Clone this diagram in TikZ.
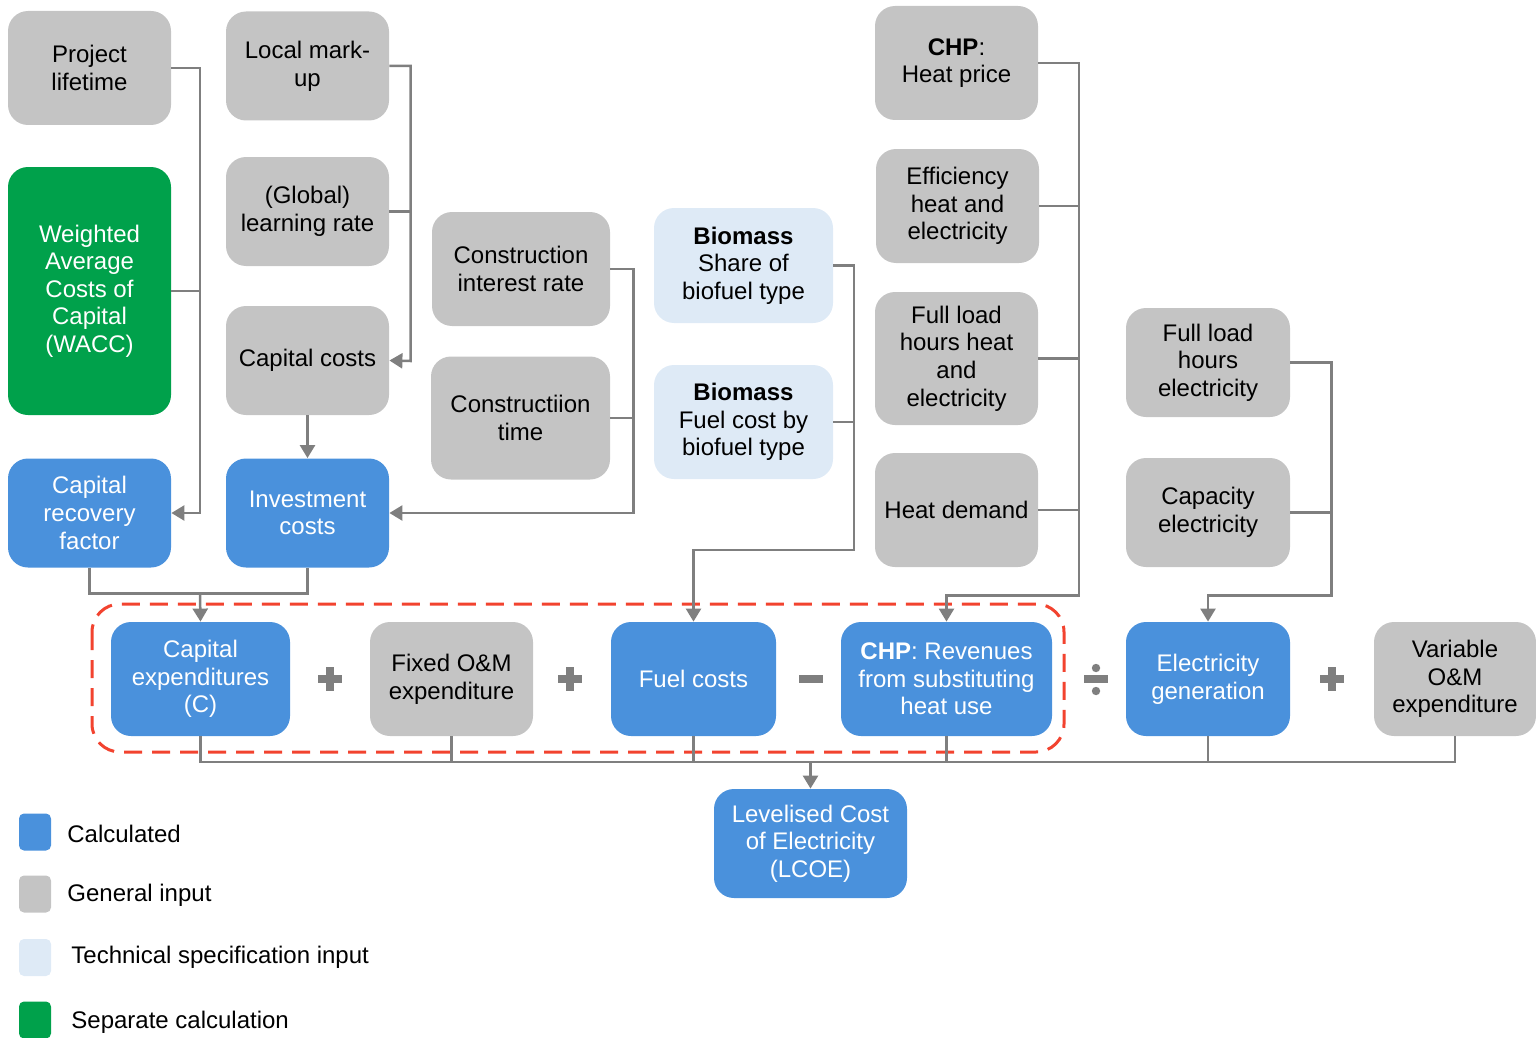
\documentclass[tikz,border=0pt]{standalone}
\usepackage{fontspec}
\setmainfont{Liberation Sans}
\usetikzlibrary{arrows.meta}
\definecolor{calcblue}{HTML}{4A91DC}
\definecolor{inputgray}{HTML}{C4C4C4}
\definecolor{techblue}{HTML}{DEEAF6}
\definecolor{sepgreen}{HTML}{00A14B}
\definecolor{linegray}{HTML}{7F7F7F}
\definecolor{dashred}{HTML}{F2432F}
\tikzset{
  base/.style={rounded corners=10pt, align=center, inner sep=0pt,
    font=\fontsize{12}{13.8}\selectfont},
  calc/.style={base, fill=calcblue, text=white},
  ginput/.style={base, fill=inputgray, text=black},
  tech/.style={base, fill=techblue, text=black},
  sep/.style={base, fill=sepgreen, text=white},
  conn/.style={draw=linegray, line width=1.25pt},
  arr/.style={conn, -{Triangle[length=6.5pt,width=7.5pt]}},
  opbar/.style={draw=linegray, line width=3.6pt},
  legsq/.style={rounded corners=2.5pt, minimum width=16pt, minimum height=18.5pt, inner sep=0pt},
  legtxt/.style={anchor=west, font=\fontsize{12}{14}\selectfont, inner sep=0pt},
}
\begin{document}
\begin{tikzpicture}[x=0.5pt,y=-0.5pt]
\useasboundingbox (0,0) rectangle (1536,1038);

% first column
\node[ginput, minimum width=81.5pt, minimum height=57pt] (plt) at (89.5,68) {Project\\lifetime};
\node[sep, minimum width=81.5pt, minimum height=124pt] (wacc) at (89.5,291) {Weighted\\Average\\Costs of\\Capital\\(WACC)};
\node[calc, minimum width=81.5pt, minimum height=54.5pt] (crf) at (89.5,513) {Capital\\recovery\\factor};

% second column
\node[ginput, minimum width=81.5pt, minimum height=54.5pt] (lmu) at (307.5,66) {Local mark-\\up};
\node[ginput, minimum width=81.5pt, minimum height=54.5pt] (lr) at (307.5,211.5) {(Global)\\learning rate};
\node[ginput, minimum width=81.5pt, minimum height=54.5pt] (cc) at (307.5,360.5) {Capital costs};
\node[calc, minimum width=81.5pt, minimum height=54.5pt] (inv) at (307.5,513) {Investment\\costs};

% construction
\node[ginput, minimum width=89pt, minimum height=57pt] (cir) at (521,269) {Construction\\interest rate};
\node[ginput, minimum width=89.5pt, minimum height=61.5pt] (ct) at (520.5,418) {Constructiion\\time};

% biomass
\node[tech, minimum width=89.5pt, minimum height=57.5pt] (bs) at (743.5,265.5) {\textbf{Biomass}\\Share of\\biofuel type};
\node[tech, minimum width=89.5pt, minimum height=57pt] (bf) at (743.5,422) {\textbf{Biomass}\\Fuel cost by\\biofuel type};

% CHP inputs
\node[ginput, minimum width=81.5pt, minimum height=57pt] (hp) at (956.5,63) {\textbf{CHP}:\\Heat price};
\node[ginput, minimum width=81.5pt, minimum height=57pt] (eff) at (957.5,206) {Efficiency\\heat and\\electricity};
\node[ginput, minimum width=81.5pt, minimum height=66.5pt] (flhh) at (956.5,358.5) {Full load\\hours heat\\and\\electricity};
\node[ginput, minimum width=81.5pt, minimum height=57pt] (hd) at (956.5,510) {Heat demand};

% electricity inputs
\node[ginput, minimum width=82pt, minimum height=54.5pt] (flhe) at (1208,362.5) {Full load\\hours\\electricity};
\node[ginput, minimum width=82pt, minimum height=54.5pt] (cap) at (1208,512.5) {Capacity\\electricity};

% cost components
\node[calc, minimum width=89.5pt, minimum height=57pt] (capex) at (200.5,679) {Capital\\expenditures\\(C)};
\node[ginput, minimum width=81.5pt, minimum height=57pt] (fom) at (451.5,679) {Fixed O\&M\\expenditure};
\node[calc, minimum width=82.5pt, minimum height=57pt] (fuel) at (693.5,679) {Fuel costs};
\node[calc, minimum width=105.5pt, minimum height=57pt] (rev) at (946.5,679) {\textbf{CHP}: Revenues\\from substituting\\heat use};
\node[calc, minimum width=82pt, minimum height=57pt] (eg) at (1208,679) {Electricity\\generation};
\node[ginput, minimum width=81pt, minimum height=57pt] (vom) at (1455,679) {Variable\\O\&M\\expenditure};

% result
\node[calc, minimum width=96.5pt, minimum height=54.5pt] (lcoe) at (810.5,843.5) {Levelised Cost\\of Electricity\\(LCOE)};

% dashed frame around the numerator
\draw[dashred, line width=1.5pt, dash pattern=on 9pt off 5pt, rounded corners=14pt]
  (92,604) rectangle (1064,752);

% operators
\draw[opbar] (318,679) -- (342,679) (330,667) -- (330,691);
\draw[opbar] (558,679) -- (582,679) (570,667) -- (570,691);
\draw[opbar] (799,679) -- (823,679);
\draw[opbar] (1084,679) -- (1108,679);
\fill[linegray] (1096,668) circle (4.2) (1096,691) circle (4.2);
\draw[opbar] (1320,679) -- (1344,679) (1332,667) -- (1332,691);

% junction points
\coordinate (j1) at (200,513);
\coordinate (j2) at (410.5,361);
\coordinate (j3) at (633.5,513);
\coordinate (j4) at (200,593.5);
\coordinate (j5) at (854,550);
\coordinate (j6) at (1079,595.5);
\coordinate (j7) at (1331.5,595.5);
\coordinate (bus) at (810.5,762);

% connectors
\draw[arr] (plt.east) -| (j1) -- (crf.east);
\draw[conn] (wacc.east) -- (wacc.east -| j1);

\draw[arr] (lmu.east) -| (j2) -- (cc.east);
\draw[conn] (lr.east) -- (lr.east -| j2);

\draw[arr] (cc.south) -- (inv.north);

\draw[arr] (cir.east) -| (j3) -- (inv.east);
\draw[conn] (ct.east) -- (ct.east -| j3);

\draw[conn] (crf.south) |- (j4);
\draw[conn] (inv.south) |- (j4);
\draw[arr] (j4) -- (capex.north);

\draw[arr] (bs.east) -| (j5) -| (fuel.north);
\draw[conn] (bf.east) -- (bf.east -| j5);

\draw[arr] (hp.east) -| (j6) -| (rev.north);
\draw[conn] (eff.east) -- (eff.east -| j6);
\draw[conn] (flhh.east) -- (flhh.east -| j6);
\draw[conn] (hd.east) -- (hd.east -| j6);

\draw[arr] (flhe.east) -| (j7) -| (eg.north);
\draw[conn] (cap.east) -- (cap.east -| j7);

% summation bus into the LCOE
\draw[conn] (capex.south) |- (bus);
\draw[conn] (vom.south) |- (bus);
\draw[conn] (fom.south) -- (fom.south |- bus);
\draw[conn] (fuel.south) -- (fuel.south |- bus);
\draw[conn] (rev.south) -- (rev.south |- bus);
\draw[conn] (eg.south) -- (eg.south |- bus);
\draw[arr] (bus) -- (lcoe.north);

% legend
\node[legsq, fill=calcblue] (lg1) at (35,832) {};
\node[legtxt] (lt1) at (67,834) {Calculated};
\node[legsq, fill=inputgray] (lg2) at (35,894) {};
\node[legtxt] (lt2) at (67,895) {General input};
\node[legsq, fill=techblue] (lg3) at (35,957.5) {};
\node[legtxt] (lt3) at (71,957) {Technical specification input};
\node[legsq, fill=sepgreen] (lg4) at (35,1020) {};
\node[legtxt] (lt4) at (71,1022) {Separate calculation};
\end{tikzpicture}
\end{document}
